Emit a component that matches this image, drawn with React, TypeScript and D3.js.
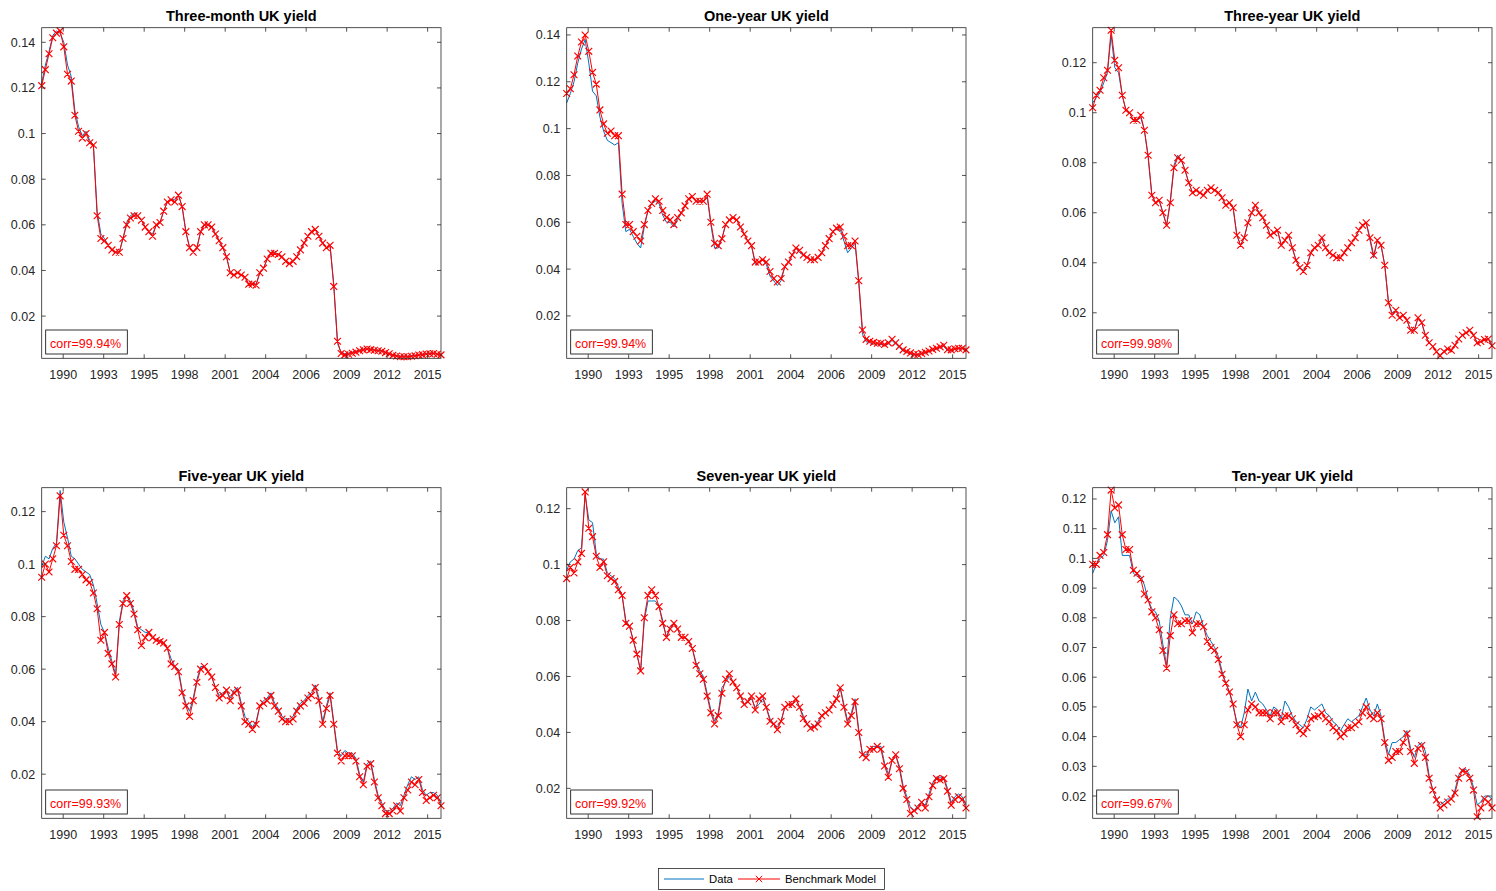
import React from 'react';
import * as d3 from 'd3';

// ---------- data (quarterly, Jan 1989 .. Jan 2016) ----------
const panelTitles = [
  'Three-month UK yield', 'One-year UK yield', 'Three-year UK yield',
  'Five-year UK yield', 'Seven-year UK yield', 'Ten-year UK yield',
];
const corrLabels = ['corr=99.94%', 'corr=99.94%', 'corr=99.98%', 'corr=99.93%', 'corr=99.92%', 'corr=99.67%'];
const yLimits: [number, number][] = [
  [0.0015, 0.1464], [0.0019, 0.1431], [0.0018, 0.134],
  [0.0032, 0.1291], [0.0093, 0.1275], [0.0125, 0.1238],
];
const yTickValues = [
  [0.02, 0.04, 0.06, 0.08, 0.1, 0.12, 0.14],
  [0.02, 0.04, 0.06, 0.08, 0.1, 0.12, 0.14],
  [0.02, 0.04, 0.06, 0.08, 0.1, 0.12],
  [0.02, 0.04, 0.06, 0.08, 0.1, 0.12],
  [0.02, 0.04, 0.06, 0.08, 0.1, 0.12],
  [0.02, 0.03, 0.04, 0.05, 0.06, 0.07, 0.08, 0.09, 0.1, 0.11, 0.12],
];
// MATLAB datenum tick positions (every 1000 days)
const xTickDatenums = [727000, 728000, 729000, 730000, 731000, 732000, 733000, 734000, 735000, 736000];
const legendLabels = ['Data', 'Benchmark Model'];

const m3Model = [
  0.121, 0.128, 0.135, 0.142, 0.144, 0.145, 0.138, 0.126, 0.123, 0.108, 0.101, 0.098,
  0.100, 0.096, 0.095, 0.064, 0.054, 0.053, 0.051, 0.049, 0.048, 0.048, 0.054, 0.060,
  0.063, 0.064, 0.064, 0.062, 0.059, 0.057, 0.055, 0.060, 0.061, 0.066, 0.070, 0.071,
  0.070, 0.073, 0.068, 0.057, 0.050, 0.048, 0.050, 0.057, 0.060, 0.060, 0.059, 0.056,
  0.053, 0.050, 0.046, 0.039, 0.038, 0.039, 0.038, 0.037, 0.034, 0.034, 0.0335, 0.039,
  0.041, 0.045, 0.0475, 0.0475, 0.047, 0.046, 0.044, 0.043, 0.044, 0.046, 0.049, 0.052,
  0.055, 0.057, 0.058, 0.055, 0.052, 0.050, 0.051, 0.033, 0.009, 0.0036, 0.003, 0.0033,
  0.0037, 0.0042, 0.0048, 0.0052, 0.0056, 0.0053, 0.005, 0.0048, 0.0046, 0.004, 0.0035, 0.0028,
  0.0025, 0.0022, 0.0022, 0.0022, 0.0024, 0.0026, 0.0029, 0.0031, 0.0034, 0.0035, 0.0036, 0.0033,
  0.003,
];
const m3Data = [
  0.122, 0.130, 0.136, 0.143, 0.145, 0.144, 0.140, 0.130, 0.125, 0.110, 0.103, 0.099,
  0.101, 0.097, 0.095, 0.066, 0.056, 0.054, 0.051, 0.049, 0.048, 0.048, 0.054, 0.061,
  0.064, 0.065, 0.064, 0.062, 0.059, 0.057, 0.056, 0.060, 0.061, 0.066, 0.070, 0.071,
  0.071, 0.073, 0.068, 0.057, 0.050, 0.048, 0.050, 0.057, 0.060, 0.060, 0.059, 0.056,
  0.053, 0.050, 0.046, 0.039, 0.038, 0.039, 0.038, 0.037, 0.034, 0.034, 0.034, 0.039,
  0.041, 0.045, 0.048, 0.048, 0.047, 0.046, 0.044, 0.043, 0.044, 0.046, 0.049, 0.052,
  0.055, 0.057, 0.058, 0.055, 0.052, 0.050, 0.051, 0.034, 0.008, 0.004, 0.0035, 0.0038,
  0.0042, 0.0046, 0.005, 0.0055, 0.0058, 0.0055, 0.0052, 0.005, 0.0048, 0.0042, 0.0036, 0.003,
  0.0026, 0.0024, 0.0024, 0.0024, 0.0026, 0.0028, 0.003, 0.0033, 0.0036, 0.0037, 0.0038, 0.0035,
  0.0032,
];
const y1Model = [
  0.115, 0.117, 0.123, 0.131, 0.137, 0.140, 0.133, 0.124, 0.119, 0.108, 0.102, 0.098,
  0.099, 0.097, 0.097, 0.072, 0.059, 0.059, 0.056, 0.054, 0.052, 0.059, 0.065, 0.068,
  0.070, 0.069, 0.065, 0.062, 0.061, 0.059, 0.062, 0.064, 0.067, 0.070, 0.071, 0.069,
  0.069, 0.069, 0.072, 0.060, 0.051, 0.050, 0.053, 0.059, 0.061, 0.062, 0.061, 0.058,
  0.055, 0.052, 0.050, 0.043, 0.043, 0.044, 0.043, 0.039, 0.036, 0.0345, 0.036, 0.041,
  0.043, 0.046, 0.049, 0.048, 0.046, 0.045, 0.044, 0.044, 0.045, 0.047, 0.050, 0.053,
  0.056, 0.0575, 0.058, 0.054, 0.050, 0.050, 0.052, 0.035, 0.014, 0.010, 0.0092, 0.0087,
  0.0083, 0.0083, 0.0078, 0.0085, 0.010, 0.0085, 0.007, 0.0055, 0.0048, 0.0042, 0.0036, 0.0035,
  0.004, 0.0045, 0.005, 0.0057, 0.0062, 0.0068, 0.0075, 0.0056, 0.0055, 0.006, 0.0062, 0.0062,
  0.0055,
];
const y1Data = [
  0.111, 0.115, 0.120, 0.128, 0.134, 0.138, 0.128, 0.116, 0.114, 0.105, 0.099, 0.095,
  0.094, 0.093, 0.094, 0.068, 0.056, 0.057, 0.054, 0.051, 0.049, 0.058, 0.065, 0.068,
  0.069, 0.068, 0.063, 0.060, 0.060, 0.058, 0.061, 0.064, 0.067, 0.070, 0.071, 0.069,
  0.069, 0.069, 0.071, 0.059, 0.049, 0.049, 0.053, 0.059, 0.061, 0.062, 0.061, 0.058,
  0.055, 0.052, 0.050, 0.042, 0.043, 0.044, 0.042, 0.037, 0.035, 0.033, 0.035, 0.041,
  0.043, 0.046, 0.049, 0.047, 0.046, 0.045, 0.044, 0.044, 0.045, 0.047, 0.050, 0.053,
  0.056, 0.057, 0.057, 0.052, 0.047, 0.049, 0.051, 0.034, 0.012, 0.009, 0.0085, 0.008,
  0.008, 0.0078, 0.0075, 0.008, 0.0095, 0.008, 0.0065, 0.005, 0.0043, 0.0038, 0.0033, 0.0032,
  0.0038, 0.0042, 0.0047, 0.0053, 0.0058, 0.0065, 0.007, 0.0052, 0.005, 0.0057, 0.006, 0.006,
  0.0052,
];
const y3Model = [
  0.102, 0.107, 0.109, 0.114, 0.117, 0.133, 0.121, 0.118, 0.107, 0.101, 0.100, 0.097,
  0.097, 0.099, 0.093, 0.083, 0.067, 0.064, 0.065, 0.060, 0.055, 0.064, 0.078, 0.082,
  0.081, 0.077, 0.072, 0.068, 0.069, 0.068, 0.067, 0.069, 0.070, 0.069, 0.068, 0.066,
  0.063, 0.064, 0.062, 0.051, 0.047, 0.050, 0.056, 0.060, 0.063, 0.060, 0.058, 0.055,
  0.051, 0.052, 0.053, 0.047, 0.049, 0.051, 0.046, 0.041, 0.038, 0.0365, 0.039, 0.044,
  0.046, 0.047, 0.050, 0.046, 0.044, 0.043, 0.042, 0.042, 0.044, 0.046, 0.048, 0.050,
  0.053, 0.055, 0.056, 0.050, 0.043, 0.049, 0.047, 0.039, 0.024, 0.019, 0.021, 0.018,
  0.019, 0.017, 0.013, 0.013, 0.018, 0.016, 0.011, 0.008, 0.0065, 0.0044, 0.0028, 0.0045,
  0.0055, 0.005, 0.007, 0.0095, 0.011, 0.012, 0.013, 0.011, 0.008, 0.0085, 0.0093, 0.0095,
  0.0068,
];
const y3Data = [
  0.104, 0.106, 0.108, 0.112, 0.116, 0.131, 0.118, 0.116, 0.107, 0.101, 0.100, 0.097,
  0.097, 0.098, 0.093, 0.082, 0.067, 0.064, 0.065, 0.060, 0.055, 0.065, 0.079, 0.083,
  0.081, 0.077, 0.072, 0.068, 0.069, 0.068, 0.067, 0.069, 0.070, 0.069, 0.068, 0.066,
  0.063, 0.064, 0.062, 0.051, 0.047, 0.050, 0.056, 0.060, 0.063, 0.060, 0.058, 0.055,
  0.051, 0.052, 0.053, 0.047, 0.049, 0.051, 0.046, 0.041, 0.038, 0.037, 0.039, 0.044,
  0.046, 0.047, 0.050, 0.046, 0.044, 0.043, 0.042, 0.042, 0.044, 0.046, 0.048, 0.050,
  0.053, 0.055, 0.056, 0.049, 0.042, 0.049, 0.047, 0.039, 0.024, 0.020, 0.021, 0.018,
  0.019, 0.017, 0.013, 0.013, 0.018, 0.016, 0.011, 0.008, 0.0065, 0.0045, 0.003, 0.0045,
  0.0055, 0.005, 0.007, 0.0095, 0.011, 0.012, 0.013, 0.011, 0.008, 0.0085, 0.0093, 0.0095,
  0.007,
];
const y5Model = [
  0.095, 0.100, 0.097, 0.102, 0.107, 0.126, 0.111, 0.107, 0.101, 0.098, 0.098, 0.096,
  0.094, 0.093, 0.089, 0.083, 0.071, 0.074, 0.066, 0.062, 0.057, 0.077, 0.085, 0.088,
  0.085, 0.081, 0.075, 0.069, 0.072, 0.074, 0.072, 0.071, 0.0705, 0.070, 0.068, 0.062,
  0.061, 0.059, 0.051, 0.046, 0.042, 0.048, 0.055, 0.060, 0.061, 0.059, 0.057, 0.053,
  0.049, 0.050, 0.052, 0.048, 0.051, 0.052, 0.046, 0.040, 0.039, 0.037, 0.039, 0.046,
  0.047, 0.048, 0.050, 0.046, 0.044, 0.041, 0.040, 0.040, 0.041, 0.044, 0.046, 0.047,
  0.049, 0.050, 0.053, 0.048, 0.039, 0.045, 0.050, 0.039, 0.028, 0.025, 0.027, 0.027,
  0.027, 0.025, 0.019, 0.016, 0.023, 0.024, 0.017, 0.011, 0.008, 0.005, 0.005, 0.006,
  0.008, 0.006, 0.011, 0.014, 0.017, 0.016, 0.018, 0.013, 0.010, 0.011, 0.012, 0.011,
  0.008,
];
const y5Data = [
  0.099, 0.103, 0.102, 0.106, 0.108, 0.128, 0.116, 0.110, 0.103, 0.102, 0.100, 0.098,
  0.097, 0.096, 0.092, 0.085, 0.077, 0.074, 0.068, 0.063, 0.058, 0.078, 0.086, 0.088,
  0.086, 0.082, 0.076, 0.075, 0.074, 0.074, 0.072, 0.071, 0.071, 0.070, 0.068, 0.064,
  0.061, 0.060, 0.052, 0.047, 0.044, 0.049, 0.056, 0.061, 0.061, 0.059, 0.057, 0.053,
  0.050, 0.051, 0.052, 0.049, 0.052, 0.053, 0.047, 0.042, 0.040, 0.038, 0.040, 0.046,
  0.048, 0.049, 0.051, 0.047, 0.045, 0.042, 0.041, 0.041, 0.042, 0.045, 0.047, 0.048,
  0.050, 0.051, 0.054, 0.049, 0.040, 0.046, 0.051, 0.040, 0.029, 0.027, 0.029, 0.028,
  0.028, 0.026, 0.020, 0.017, 0.024, 0.025, 0.018, 0.012, 0.009, 0.006, 0.006, 0.007,
  0.009, 0.008, 0.012, 0.016, 0.019, 0.018, 0.019, 0.014, 0.012, 0.013, 0.013, 0.012,
  0.009,
];
const y7Model = [
  0.095, 0.099, 0.097, 0.101, 0.104, 0.126, 0.113, 0.110, 0.103, 0.099, 0.101, 0.096,
  0.095, 0.094, 0.091, 0.089, 0.079, 0.078, 0.073, 0.068, 0.062, 0.081, 0.089, 0.091,
  0.089, 0.085, 0.079, 0.074, 0.077, 0.079, 0.077, 0.074, 0.074, 0.0725, 0.070, 0.064,
  0.061, 0.059, 0.053, 0.047, 0.043, 0.046, 0.054, 0.059, 0.061, 0.058, 0.056, 0.053,
  0.050, 0.051, 0.053, 0.048, 0.052, 0.053, 0.049, 0.044, 0.043, 0.041, 0.044, 0.049,
  0.050, 0.050, 0.052, 0.049, 0.045, 0.043, 0.0415, 0.042, 0.043, 0.046, 0.047, 0.048,
  0.050, 0.052, 0.056, 0.049, 0.043, 0.046, 0.051, 0.040, 0.032, 0.031, 0.034, 0.034,
  0.035, 0.034, 0.028, 0.024, 0.030, 0.032, 0.027, 0.020, 0.016, 0.011, 0.012, 0.013,
  0.015, 0.013, 0.017, 0.021, 0.0235, 0.023, 0.0235, 0.019, 0.014, 0.016, 0.017, 0.016,
  0.013,
];
const y7Data = [
  0.098, 0.101, 0.102, 0.105, 0.106, 0.125, 0.116, 0.115, 0.104, 0.102, 0.102, 0.097,
  0.096, 0.095, 0.092, 0.089, 0.080, 0.078, 0.073, 0.068, 0.062, 0.080, 0.087, 0.087,
  0.087, 0.085, 0.080, 0.074, 0.078, 0.079, 0.077, 0.074, 0.074, 0.073, 0.070, 0.065,
  0.062, 0.060, 0.054, 0.048, 0.044, 0.047, 0.056, 0.058, 0.060, 0.058, 0.056, 0.053,
  0.050, 0.051, 0.052, 0.049, 0.050, 0.052, 0.049, 0.045, 0.043, 0.042, 0.044, 0.049,
  0.050, 0.050, 0.052, 0.049, 0.046, 0.043, 0.042, 0.042, 0.044, 0.046, 0.047, 0.048,
  0.050, 0.052, 0.056, 0.050, 0.044, 0.047, 0.052, 0.041, 0.032, 0.032, 0.034, 0.035,
  0.035, 0.035, 0.029, 0.025, 0.030, 0.032, 0.028, 0.021, 0.017, 0.013, 0.012, 0.014,
  0.015, 0.014, 0.018, 0.022, 0.024, 0.024, 0.024, 0.020, 0.015, 0.017, 0.018, 0.017,
  0.014,
];
const y10Model = [
  0.098, 0.098, 0.101, 0.102, 0.108, 0.123, 0.117, 0.118, 0.108, 0.103, 0.103, 0.096,
  0.095, 0.093, 0.088, 0.086, 0.082, 0.080, 0.076, 0.069, 0.063, 0.074, 0.081, 0.078,
  0.078, 0.079, 0.079, 0.075, 0.078, 0.078, 0.077, 0.072, 0.070, 0.069, 0.066, 0.061,
  0.058, 0.055, 0.051, 0.044, 0.040, 0.044, 0.049, 0.051, 0.050, 0.048, 0.048, 0.048,
  0.046, 0.048, 0.048, 0.045, 0.047, 0.047, 0.046, 0.044, 0.042, 0.041, 0.043, 0.046,
  0.0467, 0.047, 0.048, 0.046, 0.045, 0.043, 0.042, 0.040, 0.041, 0.043, 0.043, 0.044,
  0.045, 0.048, 0.050, 0.047, 0.046, 0.048, 0.046, 0.038, 0.032, 0.033, 0.035, 0.035,
  0.038, 0.041, 0.035, 0.031, 0.036, 0.037, 0.033, 0.026, 0.022, 0.0187, 0.016, 0.017,
  0.018, 0.019, 0.021, 0.026, 0.0285, 0.028, 0.026, 0.022, 0.013, 0.016, 0.019, 0.018,
  0.016,
];
const y10Data = [
  0.095, 0.098, 0.100, 0.101, 0.106, 0.116, 0.112, 0.114, 0.101, 0.101, 0.101, 0.095,
  0.094, 0.094, 0.091, 0.086, 0.083, 0.082, 0.079, 0.071, 0.064, 0.080, 0.087, 0.086,
  0.084, 0.081, 0.081, 0.078, 0.082, 0.081, 0.077, 0.074, 0.072, 0.070, 0.067, 0.062,
  0.058, 0.055, 0.050, 0.045, 0.043, 0.048, 0.056, 0.052, 0.055, 0.052, 0.051, 0.049,
  0.047, 0.050, 0.049, 0.046, 0.052, 0.050, 0.047, 0.045, 0.044, 0.043, 0.046, 0.050,
  0.049, 0.050, 0.051, 0.048, 0.047, 0.045, 0.044, 0.042, 0.044, 0.046, 0.045, 0.046,
  0.047, 0.050, 0.053, 0.049, 0.047, 0.051, 0.047, 0.039, 0.034, 0.038, 0.038, 0.039,
  0.040, 0.042, 0.036, 0.033, 0.037, 0.038, 0.035, 0.027, 0.022, 0.019, 0.017, 0.018,
  0.019, 0.019, 0.022, 0.027, 0.029, 0.029, 0.027, 0.023, 0.017, 0.018, 0.020, 0.020,
  0.019,
];

const modelSeries = [m3Model, y1Model, y3Model, y5Model, y7Model, y10Model];
const dataSeries = [m3Data, y1Data, y3Data, y5Data, y7Data, y10Data];

// ---------- layout ----------
const START = new Date(Date.UTC(1989, 0, 1));
const END = new Date(Date.UTC(2016, 0, 1));
const quarterDates = d3.utcMonth.every(3)!.range(START, new Date(END.getTime() + 1));
const datenumToDate = (dn: number) => new Date((dn - 719529) * 86400000);

const COL_LEFT = [41.7, 566.7, 1092.7];
const ROW_TOP = [27.7, 487.7];
const W = 399.3;
const H = 330.6;
const TICK = 4;
const FONT = '"Liberation Sans", Arial, Helvetica, sans-serif';
const AXIS_COLOR = '#262626';
const BLUE = '#0072BD';
const RED = '#FF0000';

function Panel({ i }: { i: number }) {
  const x0 = COL_LEFT[i % 3];
  const y0 = ROW_TOP[Math.floor(i / 3)];
  const x = d3.scaleUtc().domain([START, END]).range([0, W]);
  const y = d3.scaleLinear().domain(yLimits[i]).range([H, 0]);
  const line = d3.line<number>().x((_, k) => x(quarterDates[k])).y((v) => y(v));
  const model = modelSeries[i];
  const data = dataSeries[i];
  const m = 3.4;
  const markerPath = model
    .map((v, k) => {
      const px = x(quarterDates[k]);
      const py = y(v);
      return `M${px - m},${py - m}L${px + m},${py + m}M${px - m},${py + m}L${px + m},${py - m}`;
    })
    .join('');
  const fmt = d3.format('~g');
  const yearFmt = d3.utcFormat('%Y');
  const xt = xTickDatenums.map((dn) => datenumToDate(dn));
  const ticksPath =
    xt.map((d) => { const px = x(d); return `M${px},${H}V${H - TICK}M${px},0V${TICK}`; }).join('') +
    yTickValues[i].map((v) => { const py = y(v); return `M0,${py}H${TICK}M${W},${py}H${W - TICK}`; }).join('');

  return (
    <g transform={`translate(${x0},${y0})`}>
      <path d={line(data) || ''} fill="none" stroke={BLUE} strokeWidth={1} />
      <path d={line(model) || ''} fill="none" stroke={RED} strokeWidth={1} />
      <path d={markerPath} fill="none" stroke={RED} strokeWidth={1.15} />
      <rect x={0} y={0} width={W} height={H} fill="none" stroke={AXIS_COLOR} strokeWidth={0.8} />
      <path d={ticksPath} stroke={AXIS_COLOR} strokeWidth={0.8} fill="none" />
      {xt.map((d, k) => (
        <text key={'x' + k} x={x(d)} y={H + 20.5} textAnchor="middle" fontSize={12.5} fill={AXIS_COLOR} fontFamily={FONT}>
          {yearFmt(d)}
        </text>
      ))}
      {yTickValues[i].map((v, k) => (
        <text key={'y' + k} x={-6.5} y={y(v)} dy="0.36em" textAnchor="end" fontSize={12.5} fill={AXIS_COLOR} fontFamily={FONT}>
          {fmt(v)}
        </text>
      ))}
      <text x={W / 2} y={-6.5} textAnchor="middle" fontSize={14.5} fontWeight="bold" fill="#000" fontFamily={FONT}>
        {panelTitles[i]}
      </text>
      <rect x={4} y={H - 28.3} width={81.6} height={24} fill="#fff" stroke="#000" strokeWidth={0.8} />
      <text x={8.3} y={H - 10} fontSize={12.5} fill={RED} fontFamily={FONT}>
        {corrLabels[i]}
      </text>
    </g>
  );
}

function Legend() {
  const lx = 658.5, ly = 868.5, lw = 226, lh = 21;
  const cy = ly + lh / 2;
  const mx = 759, m = 3.2;
  return (
    <g>
      <rect x={lx} y={ly} width={lw} height={lh} fill="#fff" stroke={AXIS_COLOR} strokeWidth={0.8} />
      <line x1={664} x2={704} y1={cy} y2={cy} stroke={BLUE} strokeWidth={1} />
      <text x={709} y={cy} dy="0.36em" fontSize={11.3} fill="#000" fontFamily={FONT}>{legendLabels[0]}</text>
      <line x1={738} x2={780} y1={cy} y2={cy} stroke={RED} strokeWidth={1} />
      <path d={`M${mx - m},${cy - m}L${mx + m},${cy + m}M${mx - m},${cy + m}L${mx + m},${cy - m}`} stroke={RED} strokeWidth={1} />
      <text x={785} y={cy} dy="0.36em" fontSize={11.3} fill="#000" fontFamily={FONT}>{legendLabels[1]}</text>
    </g>
  );
}

export default function App() {
  return (
    <svg
      width={1496}
      height={891}
      style={{ position: 'absolute', left: 0, top: 0, display: 'block', background: '#fff' }}
    >
      <rect x={0} y={0} width={1496} height={891} fill="#fff" />
      {panelTitles.map((_, i) => (
        <Panel key={i} i={i} />
      ))}
      <Legend />
    </svg>
  );
}
